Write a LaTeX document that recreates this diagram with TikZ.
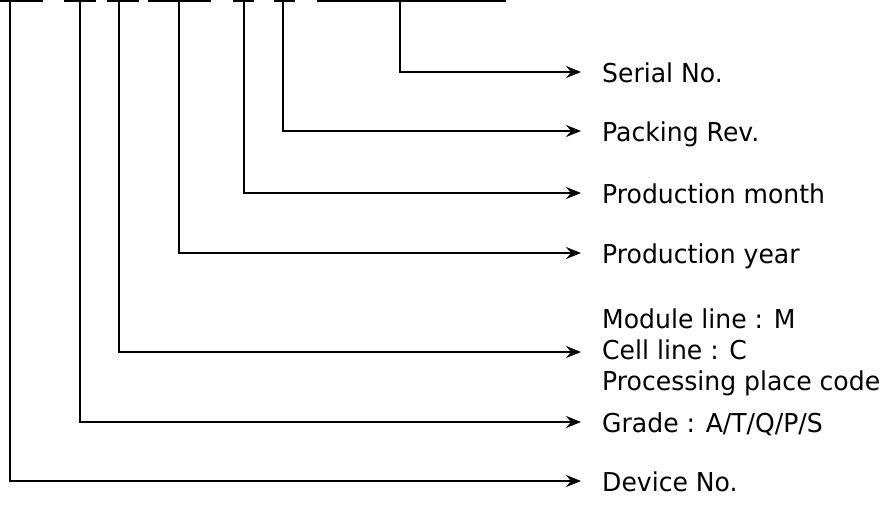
\documentclass[tikz,border=0pt]{standalone}
\usepackage{fontspec}
\setmainfont{DejaVu Sans}[FakeStretch=0.965]
\usetikzlibrary{arrows.meta}
\begin{document}
\begin{tikzpicture}[x=1pt,y=-1pt,
  bar/.style={line width=2pt},
  conn/.style={line width=1.9pt,-{Stealth[length=15pt,width=12pt,inset=5pt]}},
  lbl/.style={anchor=base west,inner sep=0pt,font=\fontsize{26}{31}\selectfont,align=left}]
\useasboundingbox (0,0) rectangle (888,512);
% top underline segments
\draw[bar] (0,1) -- (43,1);
\draw[bar] (64,1) -- (96,1);
\draw[bar] (107,1) -- (139,1);
\draw[bar] (148,1) -- (211,1);
\draw[bar] (233,1) -- (254,1);
\draw[bar] (274,1) -- (295,1);
\draw[bar] (317,1) -- (506,1);
% top ends
\coordinate (tDev) at (10,0);
\coordinate (tGrd) at (80,0);
\coordinate (tPlc) at (119,0);
\coordinate (tYr) at (179,0);
\coordinate (tMon) at (244,0);
\coordinate (tPck) at (283,0);
\coordinate (tSer) at (400,0);
% arrow ends
\coordinate (eSer) at (581,72);
\coordinate (ePck) at (581,131);
\coordinate (eMon) at (581,193);
\coordinate (eYr) at (581,253);
\coordinate (ePlc) at (581,352);
\coordinate (eGrd) at (581,422);
\coordinate (eDev) at (581,481);
% labels
\node[lbl] (lSer) at (602,82) {Serial No.};
\node[lbl] (lPck) at (602,141) {Packing Rev.};
\node[lbl] (lMon) at (602,203) {Production month};
\node[lbl] (lYr) at (602,263) {Production year};
\node[lbl] (lPlc) at (602,390) {Module line : M\\Cell line : C\\Processing place code};
\node[lbl] (lGrd) at (602,432) {Grade : A/T/Q/P/S};
\node[lbl] (lDev) at (602,491) {Device No.};
% connectors
\draw[conn] (tSer) |- (eSer);
\draw[conn] (tPck) |- (ePck);
\draw[conn] (tMon) |- (eMon);
\draw[conn] (tYr) |- (eYr);
\draw[conn] (tPlc) |- (ePlc);
\draw[conn] (tGrd) |- (eGrd);
\draw[conn] (tDev) |- (eDev);
\end{tikzpicture}
\end{document}
